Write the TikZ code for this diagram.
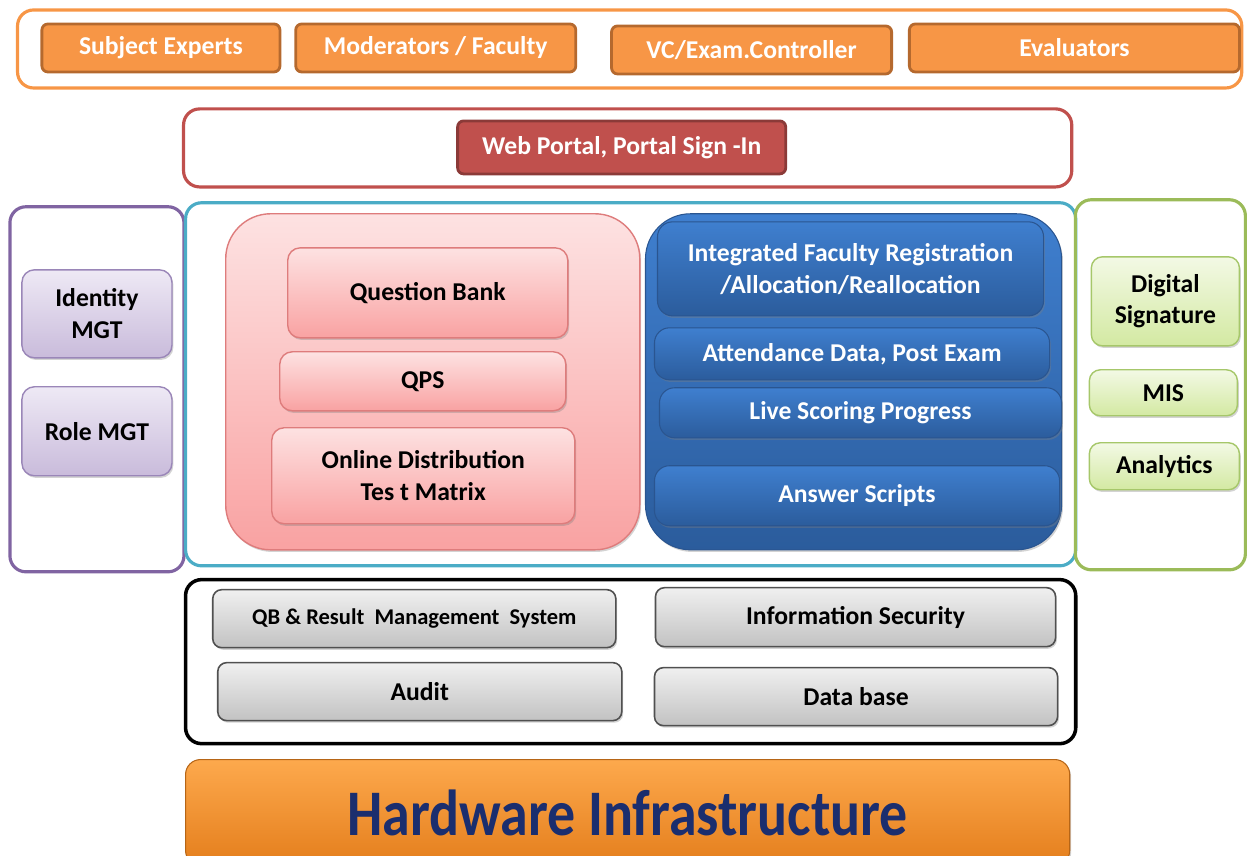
\documentclass[tikz,border=0pt]{standalone}
\usepackage{fontspec}
\setmainfont{Carlito}
\newfontfamily\hwfont[FakeStretch=0.86]{Carlito}
\usetikzlibrary{shadows}
\definecolor{orng}{HTML}{F79646}
\definecolor{orngd}{HTML}{B5692E}
\definecolor{redb}{HTML}{C0504D}
\definecolor{redd}{HTML}{8B3A38}
\definecolor{purp}{HTML}{8064A2}
\definecolor{lavt}{HTML}{EEE9F5}
\definecolor{lavb}{HTML}{C9BBDB}
\definecolor{lavd}{HTML}{9A86B8}
\definecolor{cyanf}{HTML}{4BACC6}
\definecolor{pinkt}{HTML}{FDE2E2}
\definecolor{pinkb}{HTML}{F9A2A2}
\definecolor{pinkd}{HTML}{DE7C7C}
\definecolor{bluet}{HTML}{3F7FCF}
\definecolor{blueb}{HTML}{2B5C9C}
\definecolor{blued}{HTML}{2A5590}
\definecolor{grnf}{HTML}{9BBB59}
\definecolor{grnt}{HTML}{F3F9E5}
\definecolor{grnb}{HTML}{D3E9A2}
\definecolor{grnd}{HTML}{A6C76A}
\definecolor{grayt}{HTML}{F0F0F0}
\definecolor{grayb}{HTML}{C2C2C2}
\definecolor{grayd}{HTML}{505050}
\definecolor{hwt}{HTML}{FDA94D}
\definecolor{hwb}{HTML}{E47E1C}
\definecolor{navy}{HTML}{1B2E6E}
\newcommand\bx[7]{\node[#6, minimum width={(#4-#2)*0.02cm}, minimum height={(#5-#3)*0.02cm}] (#1) at ({(#2+#4)*0.01},{-(#3+#5)*0.01}) {#7};}
\tikzset{
  every node/.style={inner sep=0pt, font=\bfseries, align=center},
  txt/.style={font=\bfseries\fontsize{14.6}{18}\selectfont},
  frame/.style={draw, line width=1.8pt, rounded corners=0.32cm},
  shd/.style={drop shadow={opacity=0.35, shadow xshift=0.8pt, shadow yshift=-1.2pt}},
  obtn/.style={txt, draw=orngd, line width=1.6pt, fill=orng, rounded corners=0.12cm, text=white},
  rbtn/.style={txt, draw=redd, line width=1.6pt, fill=redb, rounded corners=0.12cm, text=white},
  lbox/.style={txt, shd, draw=lavd, line width=0.8pt, top color=lavt, bottom color=lavb, rounded corners=0.25cm},
  pbox/.style={txt, shd, draw=pinkd, line width=0.8pt, top color=pinkt, bottom color=pinkb, rounded corners=0.25cm},
  bbox/.style={txt, shd, draw=blued, line width=0.6pt, top color=bluet, bottom color=blueb, rounded corners=0.3cm, text=white},
  gbox/.style={txt, shd, draw=grnd, line width=0.8pt, top color=grnt, bottom color=grnb, rounded corners=0.22cm},
  gybox/.style={txt, shd, draw=grayd, line width=0.9pt, top color=grayt, bottom color=grayb, rounded corners=0.18cm},
}
\begin{document}
\begin{tikzpicture}
\useasboundingbox (0,0) rectangle (24.94,-17.12);
% top row
\bx{top}{18}{10}{1242}{88}{frame, draw=orng}{}
\bx{se}{42}{24}{280}{72}{obtn}{Subject Experts}
\bx{mf}{296}{24}{576}{72}{obtn}{Moderators / Faculty}
\bx{vc}{612}{26}{892}{74}{obtn}{VC/Exam.Controller}
\bx{ev}{910}{24}{1240}{72}{obtn}{Evaluators}
% portal
\bx{portal}{184}{109}{1072}{187}{frame, draw=redb}{}
\bx{web}{458}{121}{786}{174}{rbtn}{Web Portal, Portal Sign -In}
% left
\bx{left}{10}{207}{184}{572}{frame, draw=purp}{}
\bx{idm}{22}{270}{172}{358}{lbox}{Identity\\MGT}
\bx{rlm}{22}{387}{172}{476}{lbox}{Role MGT}
% center
\bx{center}{186}{203}{1076}{566}{frame, draw=cyanf}{}
\bx{pink}{226}{214}{640}{550}{shd, draw=pinkd, line width=0.8pt, top color=pinkt, bottom color=pinkb, rounded corners=0.9cm}{}
\bx{qb}{288}{248}{568}{338}{pbox}{Question Bank}
\bx{qps}{280}{352}{566}{411}{pbox}{QPS}
\bx{odt}{272}{428}{575}{524}{pbox}{Online Distribution\\Tes t Matrix}
\bx{blue}{646}{214}{1062}{550}{shd, draw=blued, line width=0.6pt, top color=bluet, bottom color=blueb, rounded corners=0.9cm}{}
\bx{ifr}{658}{222}{1044}{316}{bbox}{Integrated Faculty Registration\\/Allocation/Reallocation}
\bx{att}{655}{328}{1050}{380}{bbox}{Attendance Data, Post Exam}
\bx{lsp}{660}{388}{1062}{438}{bbox}{Live Scoring Progress}
\bx{ans}{655}{466}{1060}{526}{bbox}{Answer Scripts}
% right
\bx{right}{1076}{200}{1246}{570}{frame, draw=grnf}{}
\bx{dsg}{1092}{257}{1240}{346}{gbox}{Digital\\Signature}
\bx{mis}{1090}{370}{1238}{416}{gbox}{MIS}
\bx{anl}{1090}{443}{1240}{490}{gbox}{Analytics}
% bottom
\bx{bottom}{186}{580}{1076}{744}{frame, draw=black, line width=2pt}{}
\bx{qbr}{213}{590}{616}{648}{gybox, font=\bfseries\fontsize{12.8}{15}\selectfont}{QB \& Result\ \ Management\ \ System}
\bx{ins}{656}{588}{1056}{647}{gybox}{Information Security}
\bx{aud}{218}{663}{622}{721}{gybox}{Audit}
\bx{dbs}{655}{668}{1058}{726}{gybox}{Data base}
% hardware
\bx{hw}{186}{760}{1070}{866}{shd, draw=hwb!80!black, line width=0.6pt, top color=hwt, bottom color=hwb, rounded corners=0.3cm, text=navy, font=\hwfont\bfseries\fontsize{37}{44}\selectfont}{Hardware Infrastructure}
\end{tikzpicture}
\end{document}
